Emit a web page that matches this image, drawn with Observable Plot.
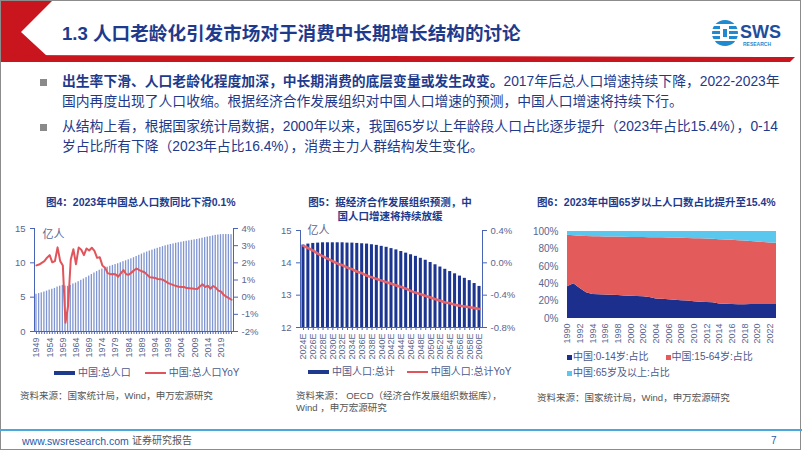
<!DOCTYPE html>
<html><head><meta charset="utf-8">
<script src="https://cdn.jsdelivr.net/npm/d3@7"></script>
<script src="https://cdn.jsdelivr.net/npm/@observablehq/plot@0.6"></script>
<style>
body{margin:0;width:802px;height:451px;overflow:hidden;background:#fff;font-family:"Liberation Sans","Noto Sans CJK SC",sans-serif;}
#page{position:relative;width:802px;height:451px;}
.abs{position:absolute;white-space:nowrap;}
.bl{color:#1e3a8c;font-size:13.8px;line-height:20px;left:62px;}
.ct{color:#1e3a8c;font-size:10.5px;font-weight:bold;line-height:14px;}
.lg{color:#4d5a8c;font-size:10px;line-height:14px;display:flex;align-items:center;}
.src{color:#555;font-size:9.5px;line-height:12px;}
.sw{display:inline-block;margin-right:3px;}
</style></head>
<body><div id="page">
<svg class="abs" style="left:0;top:0" width="802" height="451">
  <rect x="0.5" y="0.5" width="800" height="449" fill="none" stroke="#8c8c8c" stroke-width="1"/>
  <polygon points="1,1 52,1 21,32 47,56 1,56" fill="#c9151e"/>
  <polygon points="1,55 795,57 790,62 1,62" fill="#c9151e"/>
  <rect x="0" y="429" width="802" height="2" fill="#4aa8dc"/>
  <rect x="40" y="79" width="7" height="7" fill="#8a8a8a"/>
  <rect x="40" y="124" width="7" height="7" fill="#8a8a8a"/>
  <g transform="translate(725,33)">
    <circle r="13" fill="#1f8ad0"/>
    <rect x="-13" y="-9" width="26" height="2" fill="#fff"/>
    <rect x="-13" y="-4" width="26" height="2" fill="#fff"/>
    <rect x="-13" y="1" width="26" height="2" fill="#fff"/>
    <rect x="-13" y="6" width="26" height="2" fill="#fff"/>
    <rect x="-5" y="-7" width="9" height="14" fill="#fff"/>
    <rect x="-2" y="-4" width="4" height="8" fill="#1f8ad0"/>
  </g>
  <text x="740" y="38" font-family="Liberation Sans" font-weight="bold" font-size="18" fill="#1f4e9c">SWS</text>
  <text x="743" y="46" font-family="Liberation Sans" font-weight="bold" font-size="5" fill="#1f8ad0">RESEARCH</text>
</svg>
<div class="abs" style="left:62px;top:21px;font-size:18.6px;font-weight:bold;color:#1e3a8c;line-height:26px;font-family:'Liberation Sans','Noto Sans CJK SC';">1.3 人口老龄化引发市场对于消费中长期增长结构的讨论</div>
<div class="abs bl" style="top:72px;"><b>出生率下滑、人口老龄化程度加深，中长期消费的底层变量或发生改变。</b>2017年后总人口增速持续下降，2022-2023年</div>
<div class="abs bl" style="top:92px;">国内再度出现了人口收缩。根据经济合作发展组织对中国人口增速的预测，中国人口增速将持续下行。</div>
<div class="abs bl" style="top:117px;">从结构上看，根据国家统计局数据，2000年以来，我国65岁以上年龄段人口占比逐步提升（2023年占比15.4%），0-14</div>
<div class="abs bl" style="top:137px;">岁占比所有下降（2023年占比16.4%），消费主力人群结构发生变化。</div>

<div class="abs ct" style="left:46px;top:195px;">图4：2023年中国总人口数同比下滑0.1%</div>
<div class="abs ct" style="left:290px;top:195px;width:200px;text-align:center;white-space:normal;">图5：据经济合作发展组织预测，中<br>国人口增速将持续放缓</div>
<div class="abs ct" style="left:537px;top:195px;">图6：2023年中国65岁以上人口数占比提升至15.4%</div>

<div id="c1" class="abs" style="left:0;top:218px;"></div>
<div id="c2" class="abs" style="left:270px;top:218px;"></div>
<div id="c3" class="abs" style="left:520px;top:218px;"></div>

<div class="abs lg" style="left:54px;top:366px;"><span class="sw" style="width:21px;height:4px;background:#1e3a8c;"></span>中国:总人口<span class="sw" style="width:21px;height:2px;background:#e0555c;margin-left:14px;"></span>中国:总人口YoY</div>
<div class="abs lg" style="left:308px;top:365px;"><span class="sw" style="width:21px;height:4px;background:#1e3a8c;"></span>中国人口:总计<span class="sw" style="width:21px;height:2px;background:#e0555c;margin-left:12px;"></span>中国人口:总计YoY</div>
<div class="abs lg" style="left:567px;top:350px;"><span class="sw" style="width:5px;height:5px;background:#1d2f8c;margin-right:1px;"></span>中国:0-14岁:占比<span class="sw" style="width:5px;height:5px;background:#e35b5b;margin-left:17px;margin-right:1px;"></span>中国:15-64岁:占比</div>
<div class="abs lg" style="left:567px;top:366px;"><span class="sw" style="width:5px;height:5px;background:#5ac8ee;margin-right:1px;"></span>中国:65岁及以上:占比</div>

<div class="abs src" style="left:20px;top:390px;">资料来源：国家统计局，Wind，申万宏源研究</div>
<div class="abs src" style="left:296px;top:390px;">资料来源： OECD（经济合作发展组织数据库），<br>Wind ，申万宏源研究</div>
<div class="abs src" style="left:537px;top:392px;">资料来源：国家统计局，Wind，申万宏源研究</div>

<div class="abs" style="left:22px;top:434px;font-size:10.5px;color:#1e5aa8;line-height:14px;">www.swsresearch.com</div>
<div class="abs" style="left:132px;top:434px;font-size:10px;color:#555;line-height:14px;">证券研究报告</div>
<div class="abs" style="left:771px;top:434px;font-size:10px;color:#1e5aa8;line-height:14px;">7</div>
</div>
<script>
const FF = "'Liberation Sans','Noto Sans CJK SC',sans-serif";
const axisC = "#4a63b5";
const txtC = "#5a6690";

// Chart 1: 中国总人口 (亿人) and YoY (%), 1949-2023
const years1 = d3.range(1949, 2024);
const pop1 = [5.42,5.52,5.63,5.75,5.88,6.03,6.15,6.28,6.47,6.60,6.72,6.62,6.59,6.73,6.92,7.05,7.25,7.45,7.64,7.85,8.07,8.30,8.52,8.72,8.92,9.09,9.24,9.37,9.50,9.63,9.75,9.87,10.01,10.17,10.30,10.44,10.59,10.75,10.93,11.10,11.27,11.43,11.58,11.72,11.85,11.99,12.11,12.24,12.36,12.48,12.58,12.67,12.76,12.85,12.92,13.00,13.08,13.14,13.21,13.28,13.35,13.41,13.49,13.59,13.67,13.76,13.83,13.92,14.00,14.05,14.10,14.12,14.13,14.12,14.10];
const yoy1 = [1.85,1.90,2.00,2.10,2.30,2.45,2.03,2.10,2.90,2.10,1.85,-1.49,-0.50,2.18,2.79,1.92,2.89,2.76,2.45,2.84,2.72,2.88,2.70,2.29,2.33,1.85,1.72,1.40,1.34,1.35,1.33,1.19,1.38,1.58,1.33,1.31,1.43,1.56,1.67,1.58,1.51,1.45,1.30,1.16,1.15,1.12,1.06,1.05,1.01,0.92,0.82,0.76,0.70,0.65,0.60,0.59,0.59,0.53,0.52,0.51,0.49,0.48,0.62,0.75,0.59,0.67,0.49,0.65,0.56,0.38,0.33,0.14,0.03,-0.06,-0.15];
const xLabels1 = [1949,1954,1959,1964,1969,1974,1979,1984,1989,1994,1999,2004,2009,2014,2019];
const yTicksL1 = [0,5,10,15];
const yTicksR1 = [-2,-1,0,1,2,3,4];

// Chart 2: OECD 预测 中国人口总计 (亿人) and YoY (%), 2024E-2060E
const years2 = d3.range(2024, 2061);
const pop2 = [14.55,14.58,14.60,14.61,14.62,14.62,14.62,14.62,14.62,14.61,14.61,14.60,14.59,14.58,14.56,14.54,14.51,14.48,14.44,14.40,14.35,14.30,14.25,14.20,14.14,14.08,14.01,13.94,13.87,13.80,13.73,13.66,13.59,13.52,13.45,13.36,13.27];
const yoy2 = [0.21,0.18,0.15,0.11,0.08,0.05,0.02,-0.01,-0.03,-0.06,-0.08,-0.11,-0.13,-0.16,-0.18,-0.20,-0.22,-0.24,-0.26,-0.28,-0.30,-0.32,-0.35,-0.37,-0.39,-0.41,-0.43,-0.45,-0.47,-0.49,-0.50,-0.52,-0.53,-0.54,-0.55,-0.56,-0.57];
const xLabels2 = [2024,2026,2028,2030,2032,2034,2036,2038,2040,2042,2044,2046,2048,2050,2052,2054,2056,2058,2060];
const yTicksL2 = [12,13,14,15];
const yTicksR2 = [-0.8,-0.4,0,0.4];

// Chart 3: 年龄结构占比 (%), 1990-2023
const years3 = d3.range(1990, 2024);
const share0to14 = [36.5,40.0,34.5,29.5,27.5,27.2,27.0,26.8,26.4,26.0,25.7,25.3,25.0,24.2,22.4,22.0,21.5,21.0,20.5,20.0,19.2,18.8,18.4,18.0,16.6,16.3,16.0,15.8,15.8,16.0,16.2,16.2,16.1,16.1];
const share15to64 = [59.2,55.2,60.0,64.7,66.5,66.7,66.8,66.9,67.2,67.4,67.5,67.8,68.0,68.7,70.4,70.7,71.1,71.4,71.7,72.0,72.6,72.8,72.9,73.0,74.0,73.9,73.8,73.6,73.2,72.5,71.8,71.2,70.7,70.3];
const share65 = [4.3,4.8,5.5,5.8,6.0,6.1,6.2,6.3,6.4,6.6,6.8,6.9,7.0,7.1,7.2,7.3,7.4,7.6,7.8,8.0,8.2,8.4,8.7,9.0,9.4,9.8,10.2,10.6,11.0,11.5,12.0,12.6,13.2,13.6];
const series3 = ["中国:0-14岁:占比","中国:15-64岁:占比","中国:65岁及以上:占比"];
const colors3 = ["#1d2f8c","#e35b5b","#5ac8ee"];
const xLabels3 = [1990,1992,1994,1996,1998,2000,2002,2004,2006,2008,2010,2012,2014,2016,2018,2020,2022];
const yTicks3 = [0,20,40,60,80,100];

// ---- Chart 1
const m1 = d3.scaleLinear([-2,4],[0,15]);
const d1 = years1.map((y,i)=>({year:y, pop:pop1[i], yoy:yoy1[i]}));
const c1 = Plot.plot({
  width:270, height:145, marginLeft:34, marginRight:37, marginTop:10, marginBottom:32,
  style:{fontFamily:FF, fontSize:"9.5px", background:"transparent", overflow:"visible"},
  x:{type:"band", domain:years1, paddingInner:0.5, paddingOuter:0.5},
  y:{domain:[0,15]},
  marks:[
    Plot.barY(d1,{x:"year", y:"pop", fill:"#8196d0"}),
    Plot.lineY(d1,{x:"year", y:d=>m1(d.yoy), stroke:"#e0555c", strokeWidth:2}),
    Plot.frame({anchor:"left", stroke:axisC}),
    Plot.frame({anchor:"right", stroke:axisC}),
    Plot.frame({anchor:"bottom", stroke:axisC}),
    Plot.axisY(yTicksL1,{anchor:"left", tickSize:4, tickPadding:5, stroke:axisC, fill:txtC, label:null}),
    Plot.axisY(yTicksR1.map(m1),{anchor:"right", tickSize:4, tickPadding:4, stroke:axisC, fill:txtC, label:null, tickFormat:d=>Math.round(m1.invert(d))+"%"}),
    Plot.axisX(years1,{tickSize:3, stroke:axisC, tickFormat:()=>"", label:null}),
    Plot.axisX(xLabels1,{tickSize:0, tickPadding:6, tickRotate:-90, fill:txtC, fontSize:9, label:null, tickFormat:d=>String(d)}),
    Plot.text(["亿人"],{frameAnchor:"top-left", dx:8, dy:2, lineAnchor:"top", fill:txtC, fontSize:11})
  ]
});
document.getElementById("c1").append(c1);

// ---- Chart 2
const m2 = d3.scaleLinear([-0.8,0.4],[12,15]);
const d2 = years2.map((y,i)=>({year:y, pop:pop2[i], yoy:yoy2[i]}));
const c2 = Plot.plot({
  width:240, height:145, marginLeft:30, marginRight:28, marginTop:12, marginBottom:36,
  style:{fontFamily:FF, fontSize:"9.5px", background:"transparent", overflow:"visible"},
  x:{type:"band", domain:years2, paddingInner:0.38, paddingOuter:0.3},
  y:{domain:[12,15]},
  marks:[
    Plot.barY(d2,{x:"year", y1:12, y2:"pop", fill:"#1c3590"}),
    Plot.lineY(d2,{x:"year", y:d=>m2(d.yoy), stroke:"#e5636a", strokeWidth:2.6}),
    Plot.frame({anchor:"left", stroke:axisC}),
    Plot.frame({anchor:"right", stroke:axisC}),
    Plot.frame({anchor:"bottom", stroke:axisC}),
    Plot.axisY(yTicksL2,{anchor:"left", tickSize:4, tickPadding:5, stroke:axisC, fill:txtC, label:null}),
    Plot.axisY(yTicksR2.map(m2),{anchor:"right", tickSize:4, tickPadding:4, stroke:axisC, fill:txtC, label:null, tickFormat:d=>(Math.round(m2.invert(d)*10)/10).toFixed(1)+"%"}),
    Plot.axisX(years2,{tickSize:3, stroke:axisC, tickFormat:()=>"", label:null}),
    Plot.axisX(xLabels2,{tickSize:0, tickPadding:6, tickRotate:-90, fill:txtC, fontSize:9, label:null, tickFormat:d=>d+"E"}),
    Plot.text(["亿人"],{frameAnchor:"top-left", dx:7, dy:-4, lineAnchor:"top", fill:txtC, fontSize:11})
  ]
});
document.getElementById("c2").append(c2);

// ---- Chart 3
const long3 = years3.flatMap((y,i)=>[
  {year:y, s:series3[0], v:share0to14[i]},
  {year:y, s:series3[1], v:share15to64[i]},
  {year:y, s:series3[2], v:share65[i]}
]);
const c3 = Plot.plot({
  width:282, height:145, marginLeft:47, marginRight:26, marginTop:13, marginBottom:45,
  style:{fontFamily:FF, fontSize:"10px", background:"transparent", overflow:"visible"},
  x:{domain:[1990,2023]},
  y:{domain:[0,100]},
  color:{domain:series3, range:colors3},
  marks:[
    Plot.areaY(long3,{x:"year", y:"v", fill:"s", order:series3}),
    Plot.axisY(yTicks3,{anchor:"left", tickSize:0, tickPadding:9, fill:txtC, label:null, tickFormat:d=>d+"%"}),
    Plot.axisX(xLabels3,{tickSize:0, tickPadding:5, tickRotate:-90, fill:txtC, fontSize:9, label:null, tickFormat:d=>String(d)})
  ]
});
document.getElementById("c3").append(c3);
</script>
</body></html>
